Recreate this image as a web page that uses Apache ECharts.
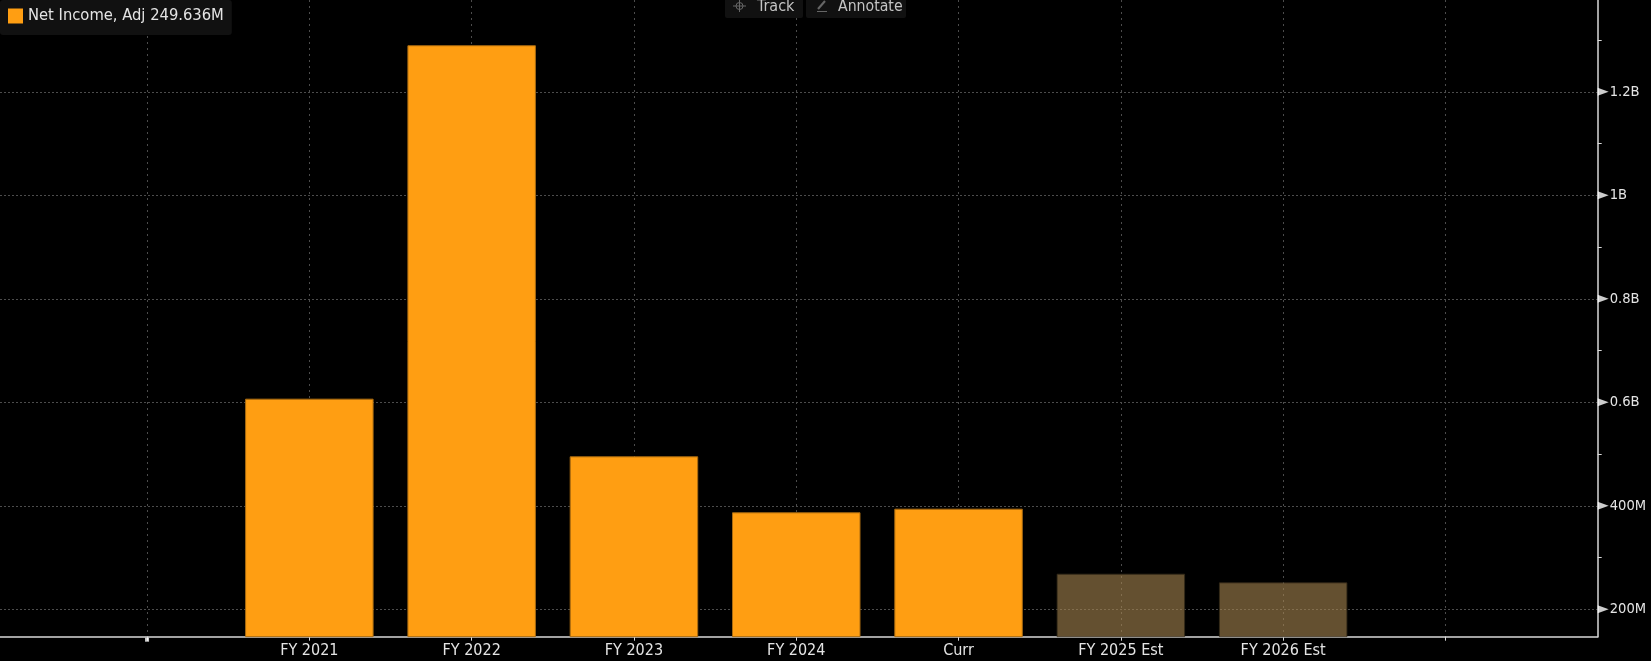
<!DOCTYPE html>
<html>
<head>
<meta charset="utf-8">
<style>html,body{margin:0;padding:0;background:#000}#c{width:1651px;height:661px}</style>
<script src="https://cdn.jsdelivr.net/npm/echarts@6/dist/echarts.min.js"></script>
</head>
<body>
<div id="c"></div>
<script>
const categories = ['', 'FY 2021', 'FY 2022', 'FY 2023', 'FY 2024', 'Curr', 'FY 2025 Est', 'FY 2026 Est', ''];
const netIncome = [null, 607, 1290, 495.6, 387.4, 394.4, 268.8, 252];
const estimated = [false, false, false, false, false, false, true, true];
const majorTicks = [200, 400, 600, 800, 1000, 1200];
const majorLabels = ['200M', '400M', '0.6B', '0.8B', '1B', '1.2B'];
const minorTicks = [300, 500, 700, 900, 1100, 1300];
const seriesName = 'Net Income, Adj';
const latestLabel = '249.636M';

const yMin = 147, yMax = 1377.4, xMin = -0.906, xMax = 8.938;
const FONT = '"DejaVu Sans Condensed", "DejaVu Sans", sans-serif';
const TXT = '#e4e4e4', AXIS = '#d8d8d8', GRID = '#4c4c4c';
const xTicks = categories.map((_, i) => i);
const grids = { color: GRID, width: 1 };

const chart = echarts.init(document.getElementById('c'), null, { renderer: 'canvas' });
chart.setOption({
  animation: false,
  backgroundColor: '#000',
  grid: { left: 0, right: 53.3, top: 0, bottom: 24.3, containLabel: false },
  legend: {
    left: 0, top: 0, padding: [8, 8, 11, 8],
    backgroundColor: '#111', borderRadius: 3,
    data: [seriesName], icon: 'rect', itemWidth: 15, itemHeight: 15, itemGap: 0,
    formatter: n => n + ' ' + latestLabel,
    textStyle: { color: TXT, fontFamily: FONT, fontSize: 16.4, padding: [0, 0, 0, 0] }
  },
  xAxis: {
    type: 'value', min: xMin, max: xMax, position: 'bottom',
    axisLine: { onZero: false, lineStyle: { color: AXIS, width: 1.5 } },
    axisTick: { show: true, length: 4, customValues: xTicks, lineStyle: { color: AXIS } },
    axisLabel: { customValues: xTicks, color: TXT, fontFamily: FONT, fontSize: 16, margin: 6,
      formatter: v => categories[v] || '' },
    splitLine: { show: true, lineStyle: { ...grids, type: [2, 4] } }
  },
  yAxis: [{
    type: 'value', min: yMin, max: yMax, position: 'right',
    axisLine: { show: true, onZero: false, lineStyle: { color: AXIS, width: 1.5 } },
    axisTick: { show: false, customValues: majorTicks },
    axisLabel: { customValues: majorTicks, color: TXT, fontFamily: FONT, fontSize: 14.6, margin: 12,
      padding: [2, 0, 0, 0], showMinLabel: true, showMaxLabel: true,
      formatter: v => majorLabels[majorTicks.indexOf(v)] || '' },
    splitLine: { show: true, lineStyle: { ...grids, type: [2, 2] } }
  }, {
    type: 'value', min: yMin, max: yMax, position: 'right',
    axisLine: { show: false, onZero: false },
    axisTick: { show: true, length: 4, customValues: minorTicks, lineStyle: { color: AXIS } },
    axisLabel: { show: false }, splitLine: { show: false }
  }],
  series: [{
    name: seriesName, type: 'bar', barWidth: 128.5, z: 3,
    itemStyle: { color: '#FF9E12' },
    data: netIncome.map((v, i) => ({
      value: [i, v],
      itemStyle: estimated[i]
        ? { color: 'rgba(167,133,80,0.6)', borderColor: 'rgba(50,40,24,0.8)', borderWidth: 1 }
        : { color: '#FF9E12', borderColor: '#A86A10', borderWidth: 1 }
    })).filter(d => d.value[1] !== null)
  }, {
    name: 'majorMarks', type: 'scatter', symbol: 'triangle', symbolRotate: -90,
    symbolSize: [8, 11], symbolOffset: [5.5, 0], clip: false, silent: true, z: 5,
    itemStyle: { color: '#fff' },
    data: majorTicks.map(v => [xMax, v])
  }, {
    name: 'originMark', type: 'scatter', symbol: 'rect', symbolSize: 4,
    symbolOffset: [0, 3], clip: false, silent: true, z: 5,
    itemStyle: { color: '#fff' },
    data: [[0, yMin]]
  }],
  graphic: [
    { type: 'rect', shape: { x: 725, y: -3, width: 78, height: 21, r: 2 }, style: { fill: '#111' }, z: 10 },
    { type: 'rect', shape: { x: 806, y: -3, width: 100, height: 21, r: 2 }, style: { fill: '#111' }, z: 10 },
    { type: 'circle', shape: { cx: 739.5, cy: 6, r: 3.5 }, style: { fill: 'none', stroke: '#666', lineWidth: 1 }, z: 11 },
    { type: 'line', shape: { x1: 733, y1: 6, x2: 746, y2: 6 }, style: { stroke: '#666', lineWidth: 1 }, z: 11 },
    { type: 'line', shape: { x1: 739.5, y1: 0, x2: 739.5, y2: 12 }, style: { stroke: '#666', lineWidth: 1 }, z: 11 },
    { type: 'line', shape: { x1: 818, y1: 9, x2: 825, y2: 1 }, style: { stroke: '#666', lineWidth: 2 }, z: 11 },
    { type: 'line', shape: { x1: 817, y1: 11.5, x2: 827, y2: 11.5 }, style: { stroke: '#666', lineWidth: 1 }, z: 11 },
    { type: 'text', x: 757, y: 7, style: { text: 'Track', fill: '#c4c4c4', font: '16px ' + FONT, verticalAlign: 'middle' }, z: 11 },
    { type: 'text', x: 838, y: 7, style: { text: 'Annotate', fill: '#c4c4c4', font: '15.7px ' + FONT, verticalAlign: 'middle' }, z: 11 }
  ]
});
</script>
</body>
</html>
